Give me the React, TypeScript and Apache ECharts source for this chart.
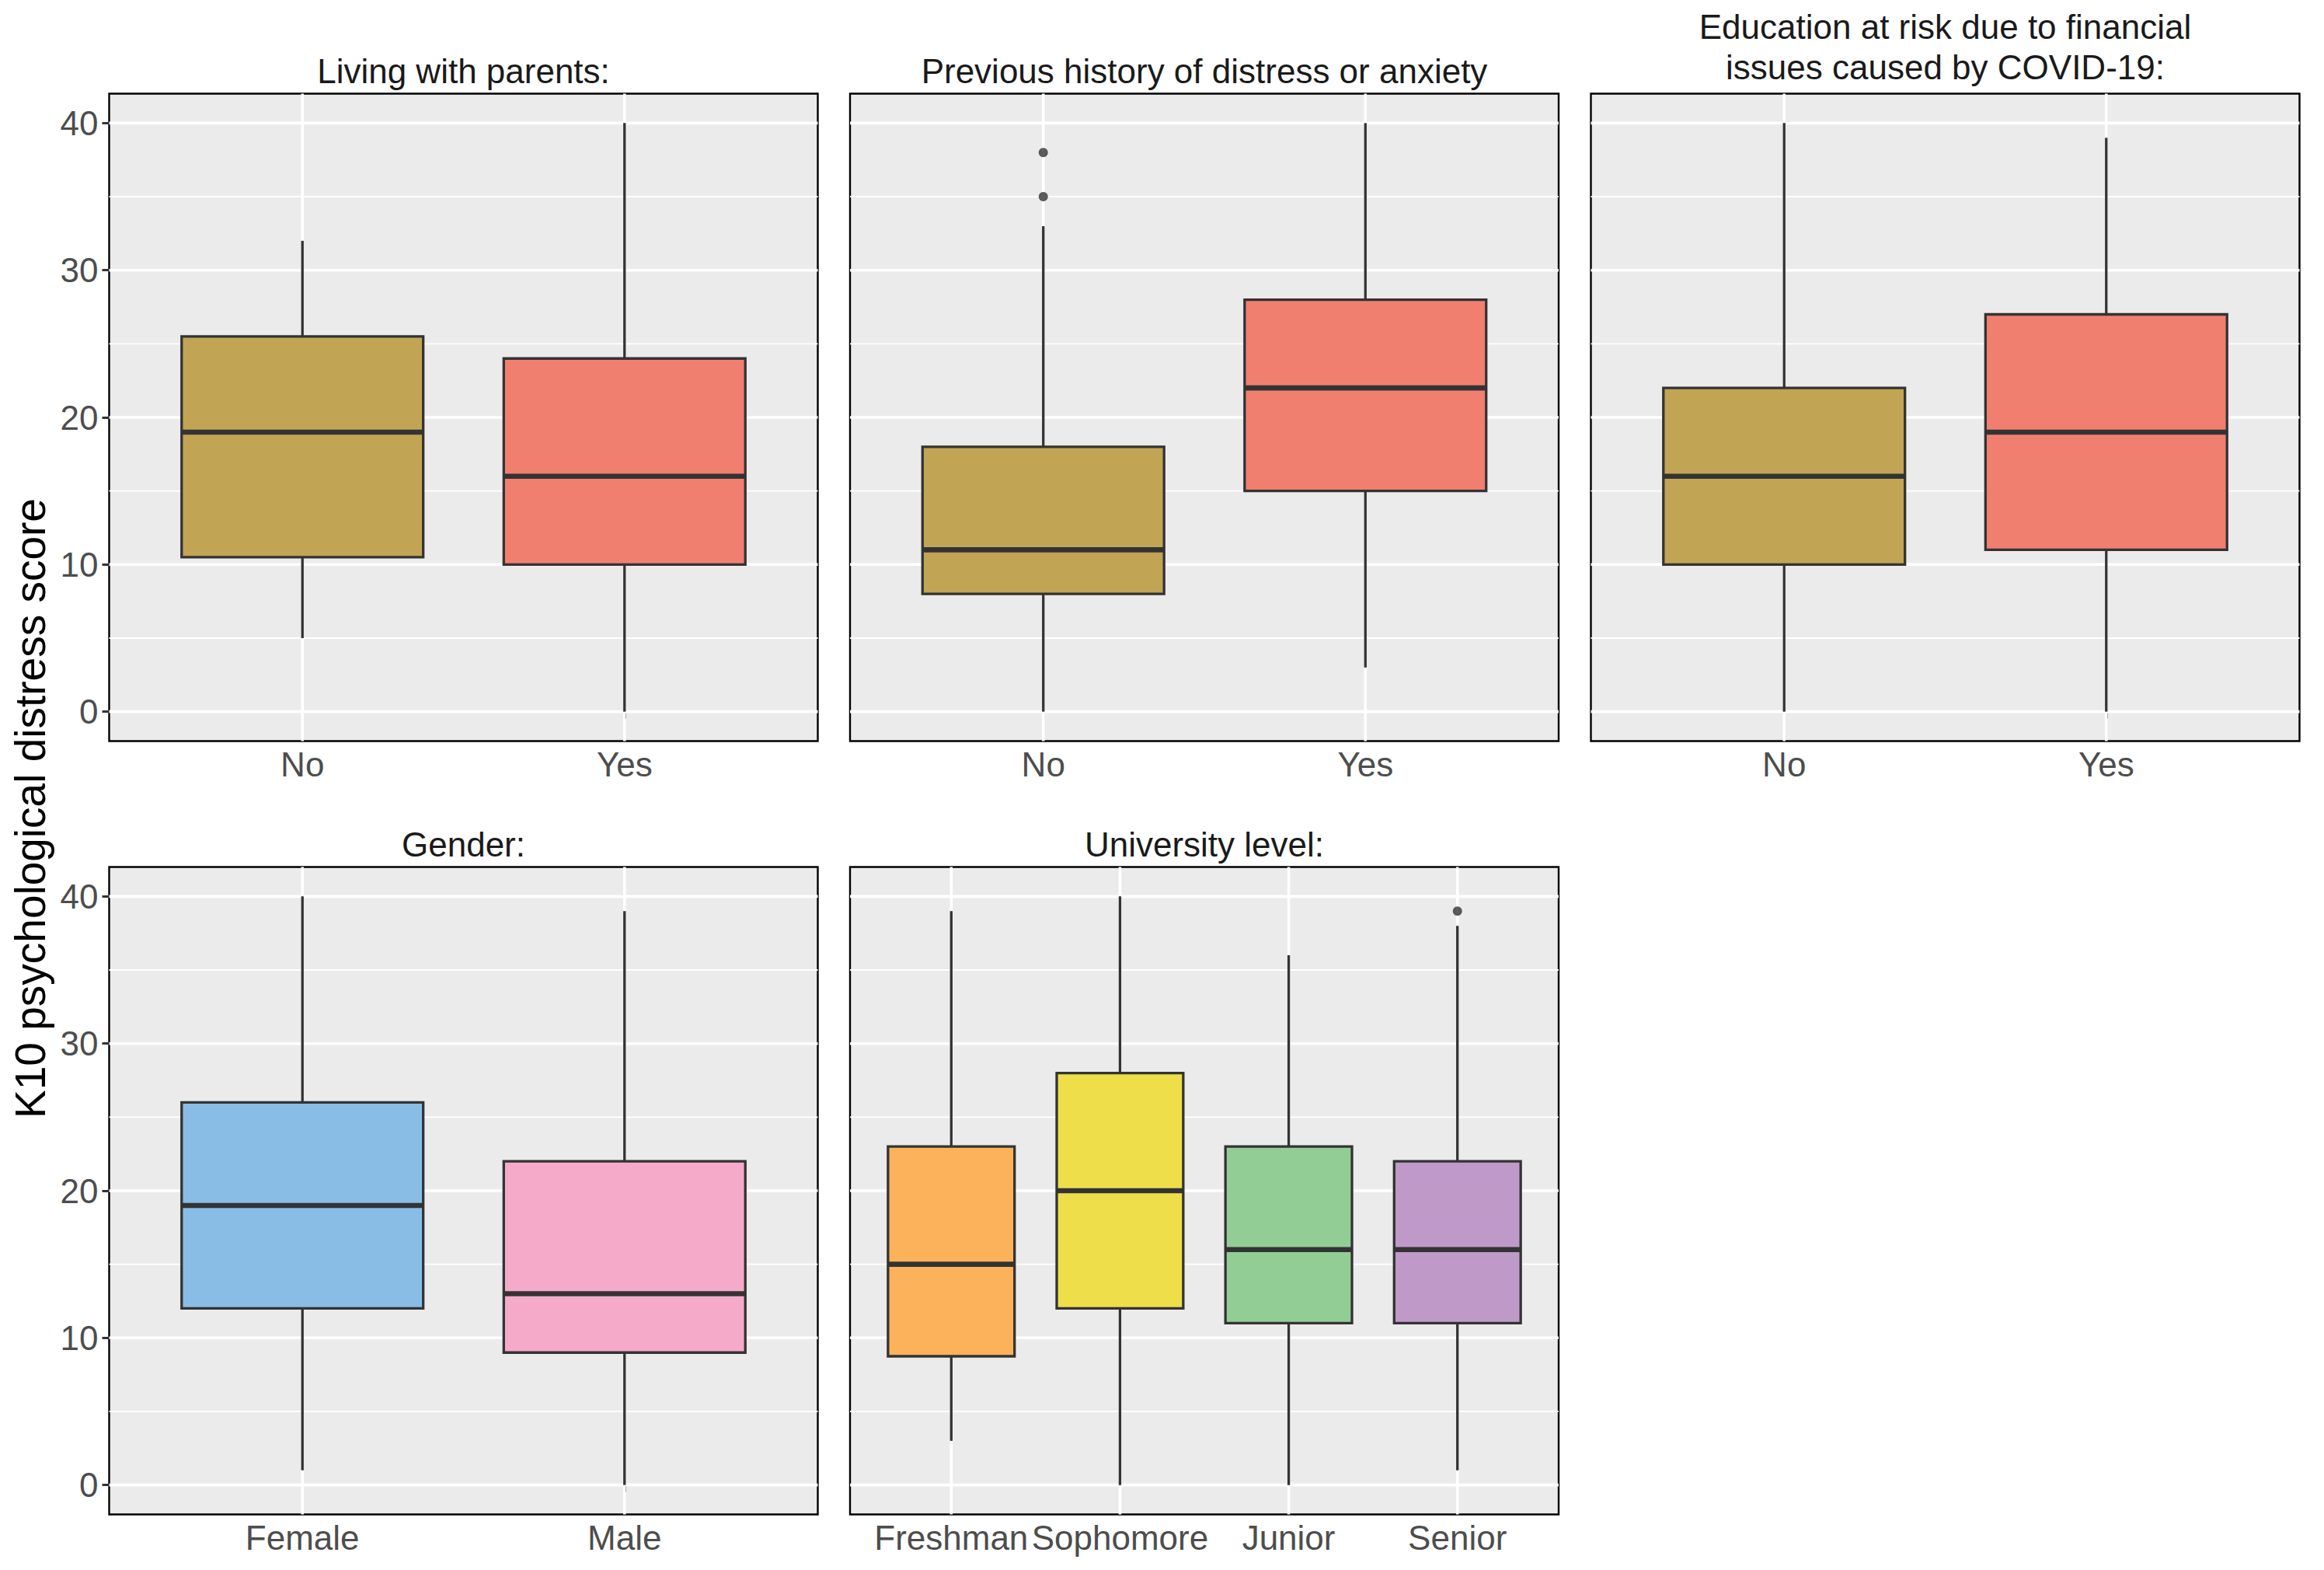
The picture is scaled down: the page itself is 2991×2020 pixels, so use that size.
import React, { useEffect, useRef } from 'react';
import * as echarts from 'echarts';

// ---------- data ----------
const livingCats = ['No', 'Yes'];
// [lower whisker, Q1, median, Q3, upper whisker]
const livingStats = [
  [5, 10.5, 19, 25.5, 32],
  [0, 10, 16, 24, 40],
];
const livingOutliers: number[][] = [];

const historyCats = ['No', 'Yes'];
const historyStats = [
  [0, 8, 11, 18, 33],
  [3, 15, 22, 28, 40],
];
const historyOutliers = [
  [0, 38],
  [0, 35],
];

const educationCats = ['No', 'Yes'];
const educationStats = [
  [0, 10, 16, 22, 40],
  [0, 11, 19, 27, 39],
];
const educationOutliers: number[][] = [];

const genderCats = ['Female', 'Male'];
const genderStats = [
  [1, 12, 19, 26, 40],
  [0, 9, 13, 22, 39],
];
const genderOutliers: number[][] = [];

const levelCats = ['Freshman', 'Sophomore', 'Junior', 'Senior'];
const levelStats = [
  [3, 8.75, 15, 23, 39],
  [0, 12, 20, 28, 40],
  [0, 11, 16, 23, 36],
  [1, 11, 16, 22, 38],
];
const levelOutliers = [[3, 39]];

const yMajorTicks = [0, 10, 20, 30, 40];
const yMinorTicks = [5, 15, 25, 35];
const yMin = -2;
const yMax = 42;

const panelTitles = [
  'Living with parents:',
  'Previous history of distress or anxiety',
  'Education at risk due to financial\nissues caused by COVID-19:',
  'Gender:',
  'University level:',
];
const yAxisTitle = 'K10 psychological distress score';

// ---------- styles ----------
const pairColors = ['#C1A454', '#F17F70'];
const genderColors = ['#89BDE6', '#F5AAC9'];
const levelColors = ['#FBB25A', '#EDDE4A', '#93CD96', '#BF9AC8'];

const FONT = '"Liberation Sans", Arial, Helvetica, sans-serif';
const W = 2991;
const H = 2020;
const colLeft = [140.5, 1094, 2047.5];
const rowTop = [120.5, 1115.5];
const panelW = 912;
const panelH = 833;
const lineW = 3.3;
const tickW = 3;
const boxRatio = 0.75;

const panels = [
  { cats: livingCats, stats: livingStats, outliers: livingOutliers, colors: pairColors, col: 0, row: 0, title: panelTitles[0], titleY: 91, yLabels: true },
  { cats: historyCats, stats: historyStats, outliers: historyOutliers, colors: pairColors, col: 1, row: 0, title: panelTitles[1], titleY: 91, yLabels: false },
  { cats: educationCats, stats: educationStats, outliers: educationOutliers, colors: pairColors, col: 2, row: 0, title: panelTitles[2], titleY: 60, yLabels: false },
  { cats: genderCats, stats: genderStats, outliers: genderOutliers, colors: genderColors, col: 0, row: 1, title: panelTitles[3], titleY: 1086, yLabels: true },
  { cats: levelCats, stats: levelStats, outliers: levelOutliers, colors: levelColors, col: 1, row: 1, title: panelTitles[4], titleY: 1086, yLabels: false },
];

function buildOption() {
  const grid: any[] = [];
  const xAxis: any[] = [];
  const yAxis: any[] = [];
  const series: any[] = [];
  const graphic: any[] = [];

  panels.forEach((p, i) => {
    const left = colLeft[p.col];
    const top = rowTop[p.row];
    const n = p.cats.length;
    const unit = panelW / (n + 0.2);
    const inset = unit * 0.1;
    const outer = 2 * i;
    const inner = 2 * i + 1;

    grid.push({
      left, top, width: panelW, height: panelH,
      show: true, backgroundColor: '#EBEBEB', borderColor: '#000', borderWidth: 2.4,
      containLabel: false,
    });
    grid.push({
      left: left + inset, top, width: panelW - 2 * inset, height: panelH,
      show: false, containLabel: false,
    });

    xAxis.push({ gridIndex: outer, type: 'value', min: 0, max: 1, show: false });
    xAxis.push({
      gridIndex: inner, type: 'category', data: p.cats, boundaryGap: true,
      axisLine: { show: false },
      axisTick: { show: true, alignWithLabel: true, length: 9, lineStyle: { color: '#333333', width: tickW } },
      axisLabel: { interval: 0, margin: 8, fontSize: 44, color: '#4D4D4D', fontFamily: FONT },
      splitLine: { show: false },
    });

    yAxis.push({
      gridIndex: outer, type: 'value', min: yMin, max: yMax, show: p.yLabels,
      axisLine: { show: false },
      axisTick: { show: true, length: 9, customValues: yMajorTicks, lineStyle: { color: '#333333', width: tickW } },
      axisLabel: {
        customValues: yMajorTicks, margin: 14, fontSize: 44, color: '#4D4D4D', fontFamily: FONT,
        formatter: (v: number) => (yMajorTicks.indexOf(v) >= 0 ? String(v) : ''),
      },
      splitLine: { show: false },
      minorSplitLine: { show: false },
    });
    yAxis.push({ gridIndex: inner, type: 'value', min: yMin, max: yMax, show: false, splitLine: { show: false } });

    // horizontal grid lines (major & minor) via the y scale
    series.push({
      type: 'custom', xAxisIndex: outer, yAxisIndex: outer, z: 1, silent: true,
      encode: { x: 0, y: 1 },
      data: [...yMajorTicks.map((v) => [0, v, 1]), ...yMinorTicks.map((v) => [0, v, 0])],
      renderItem: (params: any, api: any) => {
        const v = api.value(1);
        const major = api.value(2);
        const a = api.coord([0, v]);
        const b = api.coord([1, v]);
        return {
          type: 'line',
          shape: { x1: a[0], y1: a[1], x2: b[0], y2: b[1] },
          style: { stroke: '#FFFFFF', lineWidth: major ? 3.6 : 1.8 },
        };
      },
    });

    // vertical grid lines at category centres
    series.push({
      type: 'custom', xAxisIndex: inner, yAxisIndex: inner, z: 1, silent: true,
      encode: { x: 0, y: 1 },
      data: p.cats.map((_, k) => [k, 20]),
      renderItem: (params: any, api: any) => {
        const k = api.value(0);
        const a = api.coord([k, yMin]);
        const b = api.coord([k, yMax]);
        return {
          type: 'line',
          shape: { x1: a[0], y1: a[1], x2: b[0], y2: b[1] },
          style: { stroke: '#FFFFFF', lineWidth: 3.6 },
        };
      },
    });

    // boxes
    const colors = p.colors;
    series.push({
      type: 'custom', xAxisIndex: inner, yAxisIndex: inner, z: 3, silent: true,
      encode: { x: 0, y: [1, 2, 3, 4, 5] },
      data: p.stats.map((s, k) => [k, ...s]),
      renderItem: (params: any, api: any) => {
        const k = api.value(0);
        const lo = api.coord([k, api.value(1)]);
        const q1 = api.coord([k, api.value(2)]);
        const md = api.coord([k, api.value(3)]);
        const q3 = api.coord([k, api.value(4)]);
        const hi = api.coord([k, api.value(5)]);
        const bw = api.size([1, 0])[0] * boxRatio;
        const cx = md[0];
        const stroke = '#333333';
        return {
          type: 'group',
          children: [
            { type: 'line', shape: { x1: cx, y1: hi[1], x2: cx, y2: q3[1] }, style: { stroke, lineWidth: lineW } },
            { type: 'line', shape: { x1: cx, y1: q1[1], x2: cx, y2: lo[1] }, style: { stroke, lineWidth: lineW } },
            {
              type: 'rect',
              shape: { x: cx - bw / 2, y: q3[1], width: bw, height: q1[1] - q3[1] },
              style: { fill: colors[params.dataIndex], stroke, lineWidth: lineW },
            },
            { type: 'line', shape: { x1: cx - bw / 2, y1: md[1], x2: cx + bw / 2, y2: md[1] }, style: { stroke, lineWidth: lineW * 2 } },
          ],
        };
      },
    });

    if (p.outliers.length) {
      series.push({
        type: 'scatter', xAxisIndex: inner, yAxisIndex: inner, z: 4, silent: true,
        symbol: 'circle', symbolSize: 12,
        itemStyle: { color: '#333333' },
        data: p.outliers,
      });
    }

    graphic.push({
      type: 'text',
      x: left + panelW / 2,
      y: p.titleY,
      style: {
        text: p.title,
        align: 'center',
        verticalAlign: 'middle',
        fontSize: 44,
        fontFamily: FONT,
        lineHeight: 52,
        fill: '#1A1A1A',
      },
    });
  });

  graphic.push({
    type: 'text',
    x: 39,
    y: 1040,
    rotation: Math.PI / 2,
    style: {
      text: yAxisTitle,
      align: 'center',
      verticalAlign: 'middle',
      fontSize: 55,
      fontFamily: FONT,
      fill: '#000000',
    },
  });

  return {
    animation: false,
    backgroundColor: '#FFFFFF',
    grid,
    xAxis,
    yAxis,
    series,
    graphic,
  };
}

export default function App() {
  const ref = useRef<HTMLDivElement>(null);
  useEffect(() => {
    if (!ref.current) return;
    const chart = echarts.init(ref.current, null, { renderer: 'svg', width: W, height: H });
    chart.setOption(buildOption() as any);
    return () => chart.dispose();
  }, []);
  return (
    <div
      ref={ref}
      style={{ position: 'fixed', left: 0, top: 0, width: W, height: H, background: '#FFFFFF' }}
    />
  );
}
